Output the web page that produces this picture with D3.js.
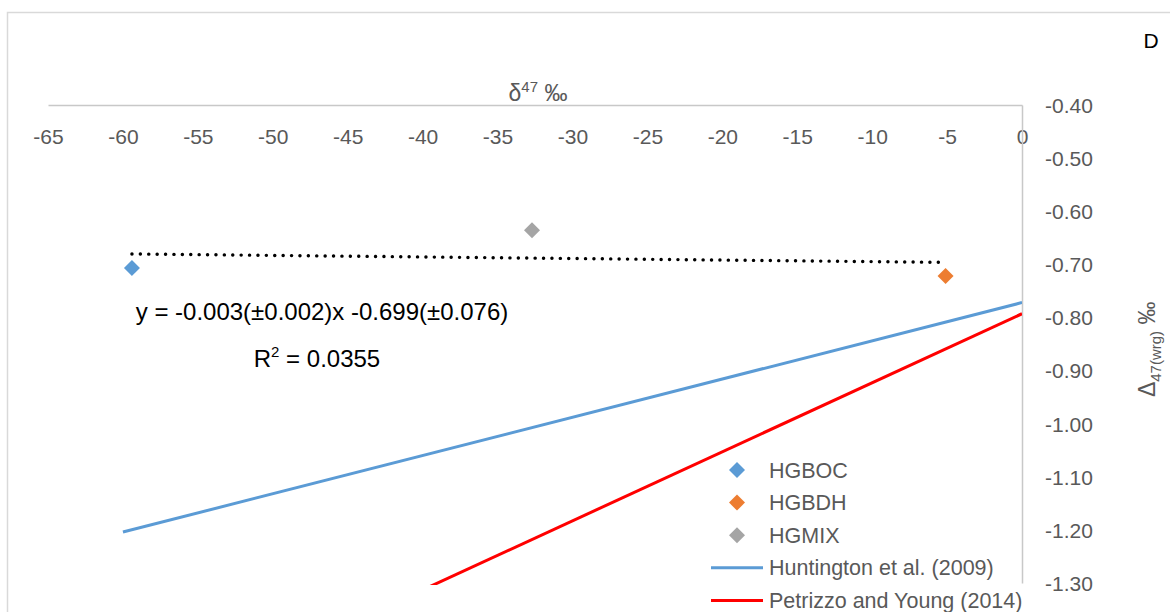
<!DOCTYPE html>
<html>
<head>
<meta charset="utf-8">
<script src="https://cdn.jsdelivr.net/npm/d3@7"></script>
<style>
  html, body { margin: 0; padding: 0; background: #fff; }
  svg { display: block; font-family: "Liberation Sans", Arial, sans-serif; }
</style>
</head>
<body>
<svg id="chart" width="1170" height="612"></svg>
<script>
// Samples: δ47 (x) and Δ47(wrg) (y)
const seriesNames = ["HGBOC", "HGBDH", "HGMIX"];
const seriesColors = ["#5B9BD5", "#ED7D31", "#A5A5A5"];
const d47Values = [-59.4, -5.1, -32.7];
const D47Values = [-0.707, -0.722, -0.636];

// Reference lines
const refNames = ["Huntington et al. (2009)", "Petrizzo and Young (2014)"];
const refColors = ["#5B9BD5", "#FF0000"];
const huntingtonX = [-60, 0];
const huntingtonY = [-1.204, -0.772];
const petrizzoX = [-40, 0];
const petrizzoY = [-1.313, -0.793];

// Axis ticks
const xTickValues = [-65, -60, -55, -50, -45, -40, -35, -30, -25, -20, -15, -10, -5, 0];
const yTickValues = [-0.40, -0.50, -0.60, -0.70, -0.80, -0.90, -1.00, -1.10, -1.20, -1.30];

const eqLabel = "y = -0.003(±0.002)x -0.699(±0.076)";
const r2Label = "0.0355";

const svg = d3.select("#chart");
const textColor = "#595959";
const axisColor = "#C8C8C8";
const fmtX = d => String(d);
const fmtY = d => d.toFixed(2);

// chart frame
svg.append("rect")
  .attr("x", 7.5).attr("y", 12.5)
  .attr("width", 1200).attr("height", 700)
  .attr("fill", "#fff")
  .attr("stroke", "#D9D9D9").attr("stroke-width", 1.5);

const x = d3.scaleLinear().domain([-65, 0]).range([48, 1022]);
const y = d3.scaleLinear().domain([-1.30, -0.40]).range([583, 105]);

svg.append("defs").append("clipPath").attr("id", "plotClip")
  .append("rect")
  .attr("x", x(-65)).attr("y", y(-0.40))
  .attr("width", x(0) - x(-65)).attr("height", y(-1.30) - y(-0.40) + 2);

// x axis along the top of the plot
const xAxis = svg.append("g")
  .attr("transform", `translate(0,${y(-0.40)})`)
  .call(d3.axisBottom(x).tickValues(xTickValues).tickSize(0).tickSizeOuter(0)
    .tickFormat(fmtX));
xAxis.select(".domain").attr("stroke", axisColor).attr("stroke-width", 1.5);
xAxis.selectAll("text")
  .attr("y", 32).attr("dy", "0.35em")
  .attr("fill", textColor).attr("font-size", 21)
  .attr("font-family", "Liberation Sans, Arial, sans-serif");

// y axis at x = 0, labels on the right
const yAxis = svg.append("g")
  .attr("transform", `translate(${x(0)},0)`)
  .call(d3.axisRight(y).tickValues(yTickValues).tickSize(0).tickSizeOuter(0)
    .tickPadding(23).tickFormat(fmtY));
yAxis.select(".domain").attr("stroke", axisColor).attr("stroke-width", 1.5);
yAxis.selectAll("text")
  .attr("dy", "0.35em")
  .attr("fill", textColor).attr("font-size", 21)
  .attr("font-family", "Liberation Sans, Arial, sans-serif");

// axis titles
const xTitle = svg.append("text")
  .attr("x", x(-32.3)).attr("y", 101)
  .attr("text-anchor", "middle").attr("fill", textColor).attr("font-size", 23);
xTitle.append("tspan").text("δ");
xTitle.append("tspan").attr("font-size", 15).attr("dy", -9).text("47");
xTitle.append("tspan").attr("dy", 9).text(" ‰");

const yTitle = svg.append("text")
  .attr("transform", `translate(1155,${y(-0.86)}) rotate(-90)`)
  .attr("text-anchor", "middle").attr("fill", textColor).attr("font-size", 23);
yTitle.append("tspan").text("Δ");
yTitle.append("tspan").attr("font-size", 15).attr("dy", 6).text("47(wrg)");
yTitle.append("tspan").attr("dy", -6).text(" ‰");

svg.append("text")
  .attr("x", 1151).attr("y", 48)
  .attr("text-anchor", "middle").attr("fill", "#000").attr("font-size", 21)
  .text("D");

// reference lines
const plot = svg.append("g").attr("clip-path", "url(#plotClip)");
const line = d3.line().x(d => x(d[0])).y(d => y(d[1]));
const refData = [d3.zip(huntingtonX, huntingtonY), d3.zip(petrizzoX, petrizzoY)];
plot.selectAll("path.ref").data(refData).join("path")
  .attr("class", "ref")
  .attr("d", line)
  .attr("fill", "none")
  .attr("stroke", (d, i) => refColors[i])
  .attr("stroke-width", 3);

// least-squares trend through the samples
const mx = d3.mean(d47Values), my = d3.mean(D47Values);
let sxy = 0, sxx = 0;
d47Values.forEach((v, i) => { sxy += (v - mx) * (D47Values[i] - my); sxx += (v - mx) * (v - mx); });
const slope = sxy / sxx, intercept = my - slope * mx;
const x0 = d3.min(d47Values), x1 = d3.max(d47Values);
svg.append("path")
  .attr("d", line([[x0, intercept + slope * x0], [x1, intercept + slope * x1]]))
  .attr("fill", "none")
  .attr("stroke", "#000")
  .attr("stroke-width", 3.4)
  .attr("stroke-linecap", "round")
  .attr("stroke-dasharray", "0.1 8.3");

// sample markers
const diamond = d3.symbol().type(d3.symbolSquare).size(128);
svg.selectAll("path.pt").data(d47Values).join("path")
  .attr("class", "pt")
  .attr("d", diamond)
  .attr("transform", (d, i) => `translate(${x(d)},${y(D47Values[i])}) rotate(45)`)
  .attr("fill", (d, i) => seriesColors[i]);

// trend equation
svg.append("text")
  .attr("x", 322).attr("y", 320)
  .attr("text-anchor", "middle").attr("fill", "#000").attr("font-size", 24)
  .text(eqLabel);
const r2 = svg.append("text")
  .attr("x", 317).attr("y", 367)
  .attr("text-anchor", "middle").attr("fill", "#000").attr("font-size", 24);
r2.append("tspan").text("R");
r2.append("tspan").attr("font-size", 15).attr("dy", -10).text("2");
r2.append("tspan").attr("dy", 10).text(" = " + r2Label);

// legend
const legend = svg.append("g");
const rowY = i => 470 + i * 32.6;
seriesNames.forEach((name, i) => {
  legend.append("path")
    .attr("d", diamond)
    .attr("transform", `translate(737,${rowY(i)}) rotate(45)`)
    .attr("fill", seriesColors[i]);
  legend.append("text")
    .attr("x", 769).attr("y", rowY(i)).attr("dy", "0.35em")
    .attr("fill", textColor).attr("font-size", 21.5).text(name);
});
refNames.forEach((name, j) => {
  const i = seriesNames.length + j;
  legend.append("line")
    .attr("x1", 711).attr("x2", 763)
    .attr("y1", rowY(i)).attr("y2", rowY(i))
    .attr("stroke", refColors[j]).attr("stroke-width", 3);
  legend.append("text")
    .attr("x", 769).attr("y", rowY(i)).attr("dy", "0.35em")
    .attr("fill", textColor).attr("font-size", 21.5).text(name);
});
</script>
</body>
</html>
